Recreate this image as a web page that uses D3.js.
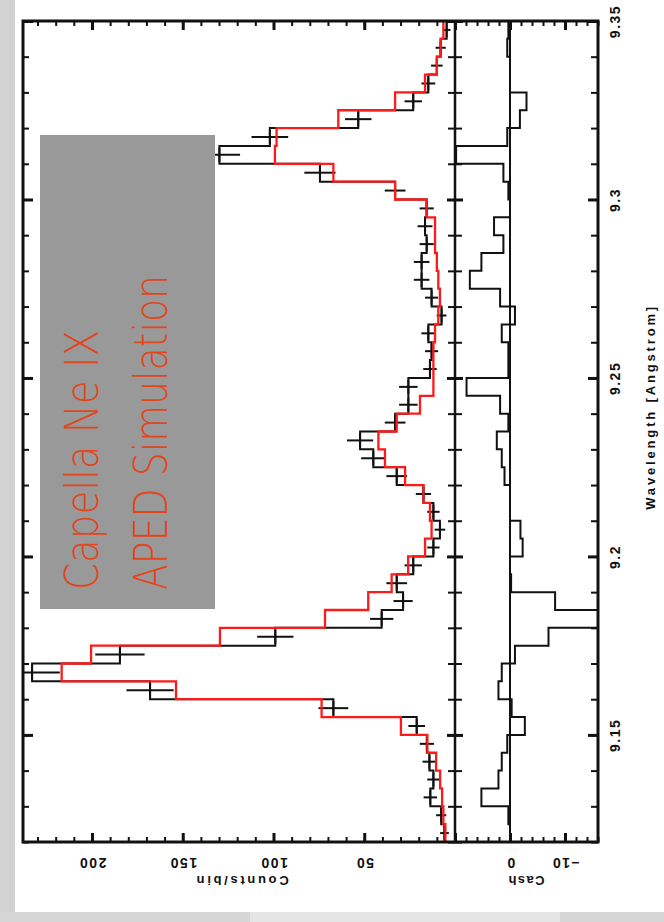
<!DOCTYPE html>
<html>
<head>
<meta charset="utf-8">
<script src="https://cdn.jsdelivr.net/npm/d3@7"></script>
<style>
  body { margin: 0; background: #ffffff; }
  svg { display: block; }
  .tick-label { font-family: "Liberation Sans", Arial, sans-serif; font-weight: bold; font-size: 14px; fill: #111; }
  .axis-title { font-family: "Liberation Sans", Arial, sans-serif; font-weight: bold; font-size: 13px; fill: #111; }
</style>
</head>
<body>
<svg id="chart" width="664" height="922"></svg>
<script>
// ---- Ne IX spectrum, binned counts (lower bin edges in Angstrom) ----
const binLow = [
  9.120, 9.125, 9.130, 9.135, 9.140, 9.145, 9.150, 9.155, 9.160, 9.165,
  9.170, 9.175, 9.180, 9.185, 9.190, 9.195, 9.200, 9.205, 9.210, 9.215,
  9.220, 9.225, 9.230, 9.235, 9.240, 9.245, 9.250, 9.255, 9.260, 9.265,
  9.270, 9.275, 9.280, 9.285, 9.290, 9.295, 9.300, 9.305, 9.310, 9.315,
  9.320, 9.325, 9.330, 9.335, 9.340, 9.345
];
const binWidth = 0.005;

// observed counts per bin
const dataCounts = [
  5.8, 7.6, 13.6, 11.9, 14.1, 15.5, 21.1, 67, 168, 233,
  184.6, 99, 40.4, 28.6, 32.1, 23, 11.9, 8.3, 11.9, 17.4,
  32.1, 45, 52.3, 33, 25.7, 25.7, 13.8, 12.9, 14.7, 7.4,
  12.9, 18.4, 18.4, 15.6, 16.5, 15.6, 33, 74.4, 129.8, 102,
  53.3, 23, 14.7, 10, 7.9, 4.6
];
// one-sigma errors on the observed counts
const dataErrors = [
  2.4, 2.8, 3.7, 3.4, 3.8, 3.9, 4.6, 8.2, 13, 15.3,
  13.6, 10, 6.4, 5.3, 5.7, 4.8, 3.4, 2.9, 3.4, 4.2,
  5.7, 6.7, 7.2, 5.7, 5.1, 5.1, 3.7, 3.6, 3.8, 2.7,
  3.6, 4.3, 4.3, 3.9, 4.1, 3.9, 5.7, 8.6, 11.4, 10.1,
  7.3, 4.8, 3.8, 3.2, 2.8, 2.1
];
// APED model counts per bin
const modelCounts = [
  5.3, 6.4, 7.1, 8.2, 10.4, 15.2, 29.8, 73.5, 153.7, 216.7,
  200.5, 129.5, 71.6, 47.8, 34.9, 25.8, 16.5, 12.9, 13.8, 17.4,
  27.5, 38.6, 42.2, 32.1, 19.3, 11.9, 11.9, 11.9, 11, 9.2,
  8.3, 9.2, 10, 11, 11, 15.6, 33, 67, 99.2, 98.3,
  64.3, 33, 16.5, 10, 7.9, 6.4
];
// Cash statistic residual per bin
const cashResid = [
  0, 0.3, 5.2, 2.1, 1.5, 0.5, -2.7, -0.3, 2.1, 1.5,
  -0.9, -7, -17, -8.2, -0.2, 0, -2.3, -1.9, 0, 0,
  1, 1.5, 2.4, 0.3, 1.8, 7.9, 0.3, 0.3, 1.5, -0.9,
  1.8, 7.3, 5.2, 1.2, 2.9, 0, 0.3, 1.2, 9.8, 0.5,
  -1.8, -3, 0, 0, 0.5, 0.3
];

// ---- axis ticks and labels ----
const waveMajor = [9.15, 9.2, 9.25, 9.3, 9.35];
const waveMajorLabels = ["9.15", "9.2", "9.25", "9.3", "9.35"];
const countMajor = [50, 100, 150, 200];
const countLabels = ["50", "100", "150", "200"];
const cashMajor = [0, -10];
const cashLabels = ["0", "\u221210"];
const waveTitle = "Wavelength [Angstrom]";
const countTitle = "Counts/bin";
const cashTitle = "Cash";
const noteLines = ["Capella Ne IX", "APED Simulation"];

// ---- layout ----
const svg = d3.select("#chart");
const W = 664, H = 922;
const F = { left: 23, top: 21, right: 598, bottom: 842, split: 455 };

// page background strips
svg.append("rect").attr("x", 0).attr("y", 0).attr("width", W).attr("height", H).attr("fill", "#ffffff");
svg.append("rect").attr("x", 0).attr("y", 0).attr("width", 15).attr("height", H).attr("fill", "#d2d2d2");
svg.append("rect").attr("x", 0).attr("y", 912).attr("width", W).attr("height", H - 912).attr("fill", "#d6d6d6");
svg.append("rect").attr("x", 250).attr("y", 912).attr("width", 310).attr("height", H - 912).attr("fill", "#e4e4e4");

// scales: wavelength runs up the page, counts increase to the left
const yW = d3.scaleLinear().domain([9.12, 9.35]).range([F.bottom, F.top]);
const xC = d3.scaleLinear().domain([0, 238]).range([F.split, F.left]);
const xR = d3.scaleLinear().domain([10, -16]).range([F.split, F.right]);

const waveMinor = d3.range(912, 936).map(v => v / 100);
const countMinor = d3.range(0, 240, 10);
const cashMinor = d3.range(-16, 11, 2);

const defs = svg.append("defs");
defs.append("clipPath").attr("id", "clipCounts")
  .append("rect").attr("x", F.left).attr("y", F.top).attr("width", F.split - F.left).attr("height", F.bottom - F.top);
defs.append("clipPath").attr("id", "clipCash")
  .append("rect").attr("x", F.split).attr("y", F.top).attr("width", F.right - F.split).attr("height", F.bottom - F.top);

function styleAxis(g, width) {
  g.select(".domain").remove();
  g.selectAll(".tick line").attr("stroke", "#111").attr("stroke-width", width);
  g.selectAll(".tick text").remove();
}

// wavelength ticks: right edge (inward), left edge (inward), panel divider (crossing)
[[d3.axisLeft, F.right, 7, 2, waveMinor], [d3.axisLeft, F.right, 10, 3, waveMajor],
 [d3.axisRight, F.left, 6, 2, waveMinor], [d3.axisRight, F.left, 10, 3, waveMajor],
 [d3.axisRight, F.split - 7, 14, 2, waveMinor], [d3.axisRight, F.split - 8, 16, 3, waveMajor]]
  .forEach(([ax, x, size, w, vals]) => {
    svg.append("g").attr("transform", `translate(${x},0)`)
      .call(ax(yW).tickValues(vals).tickSize(size).tickFormat(""))
      .call(g => styleAxis(g, w));
  });

// counts and Cash ticks along bottom (upward) and top (downward)
[[xC, countMinor, 5, 2], [xC, [0, ...countMajor], 9, 3], [xR, cashMinor, 5, 2], [xR, [10, ...cashMajor], 9, 3]]
  .forEach(([sc, vals, size, w]) => {
    svg.append("g").attr("transform", `translate(0,${F.bottom})`)
      .call(d3.axisTop(sc).tickValues(vals).tickSize(size).tickFormat(""))
      .call(g => styleAxis(g, w));
    svg.append("g").attr("transform", `translate(0,${F.top})`)
      .call(d3.axisBottom(sc).tickValues(vals).tickSize(size).tickFormat(""))
      .call(g => styleAxis(g, w));
  });

// wavelength tick labels, reading bottom-to-top
svg.append("g").attr("transform", `translate(${F.right},0)`)
  .call(d3.axisRight(yW).tickValues(waveMajor).tickSize(0).tickPadding(17)
    .tickFormat((d, i) => waveMajorLabels[i]))
  .call(g => {
    g.select(".domain").remove();
    g.selectAll(".tick text")
      .attr("class", "tick-label")
      .attr("x", null).attr("dy", null)
      .attr("text-anchor", "middle").attr("dominant-baseline", "central")
      .attr("letter-spacing", "1.5px")
      .attr("transform", "translate(17,0) rotate(-90)");
  });

// counts and Cash tick labels, upside down under the frame
function bottomLabels(sc, vals, labels) {
  svg.append("g").attr("transform", `translate(0,${F.bottom})`)
    .call(d3.axisBottom(sc).tickValues(vals).tickSize(0).tickPadding(21)
      .tickFormat((d, i) => labels[i]))
    .call(g => {
      g.select(".domain").remove();
      g.selectAll(".tick text")
        .attr("class", "tick-label")
        .attr("y", null).attr("dy", null)
        .attr("text-anchor", "middle").attr("dominant-baseline", "central")
        .attr("letter-spacing", "1.5px")
        .attr("transform", "translate(0,21) rotate(180)");
    });
}
bottomLabels(xC, countMajor, countLabels);
bottomLabels(xR, cashMajor, cashLabels);

// axis titles
svg.append("text").attr("class", "axis-title")
  .attr("transform", `translate(${xC(117)},880) rotate(180)`)
  .attr("text-anchor", "middle").attr("dominant-baseline", "central")
  .attr("textLength", 92).attr("lengthAdjust", "spacing")
  .text(countTitle);
svg.append("text").attr("class", "axis-title")
  .attr("transform", `translate(${xR(-3)},880) rotate(180)`)
  .attr("text-anchor", "middle").attr("dominant-baseline", "central")
  .attr("textLength", 36).attr("lengthAdjust", "spacing")
  .text(cashTitle);
svg.append("text").attr("class", "axis-title")
  .attr("transform", `translate(650,${yW(9.2415)}) rotate(-90)`)
  .attr("text-anchor", "middle").attr("dominant-baseline", "central")
  .attr("textLength", 203).attr("lengthAdjust", "spacing")
  .text(waveTitle);

// step histogram helper: vertical run across each bin at its value
const stepPath = (vals, xs) => d3.line()(vals.flatMap((v, i) => [
  [xs(v), yW(binLow[i])], [xs(v), yW(binLow[i] + binWidth)]
]));

const countsLayer = svg.append("g").attr("clip-path", "url(#clipCounts)");

// observed data histogram
countsLayer.append("path").attr("d", stepPath(dataCounts, xC))
  .attr("fill", "none").attr("stroke", "#111").attr("stroke-width", 2);

// error crosses
countsLayer.append("g").selectAll("line.err").data(dataCounts).join("line")
  .attr("x1", (d, i) => xC(d + dataErrors[i])).attr("x2", (d, i) => xC(d - dataErrors[i]))
  .attr("y1", (d, i) => yW(binLow[i] + binWidth / 2)).attr("y2", (d, i) => yW(binLow[i] + binWidth / 2))
  .attr("stroke", "#111").attr("stroke-width", 2);
countsLayer.append("g").selectAll("line.errv").data(dataCounts).join("line")
  .attr("x1", d => xC(d)).attr("x2", d => xC(d))
  .attr("y1", (d, i) => yW(binLow[i] + binWidth * 0.1)).attr("y2", (d, i) => yW(binLow[i] + binWidth * 0.9))
  .attr("stroke", "#111").attr("stroke-width", 2);

// model histogram
countsLayer.append("path").attr("d", stepPath(modelCounts, xC))
  .attr("fill", "none").attr("stroke", "#ff1a1a").attr("stroke-width", 2.3);

// residual panel: zero line and Cash residual histogram
svg.append("line").attr("x1", xR(0)).attr("x2", xR(0)).attr("y1", F.top).attr("y2", F.bottom)
  .attr("stroke", "#111").attr("stroke-width", 2);
svg.append("g").attr("clip-path", "url(#clipCash)")
  .append("path").attr("d", stepPath(cashResid, xR))
  .attr("fill", "none").attr("stroke", "#111").attr("stroke-width", 2);

// frame and panel divider
svg.append("rect").attr("x", F.left).attr("y", F.top)
  .attr("width", F.right - F.left).attr("height", F.bottom - F.top)
  .attr("fill", "none").attr("stroke", "#111").attr("stroke-width", 3);
svg.append("line").attr("x1", F.split).attr("x2", F.split).attr("y1", F.top).attr("y2", F.bottom)
  .attr("stroke", "#111").attr("stroke-width", 2.5);

// annotation box
svg.append("rect").attr("x", 40).attr("y", 135).attr("width", 175).attr("height", 474)
  .attr("fill", "#999999");
const noteX = [98, 167];
const noteLen = [260, 315];
noteLines.forEach((t, i) => {
  svg.append("text")
    .attr("transform", `translate(${noteX[i]},590) rotate(-90)`)
    .attr("font-family", "'DejaVu Sans', sans-serif")
    .attr("font-weight", 200)
    .attr("font-size", 46)
    .attr("fill", "#e2461c")
    .attr("textLength", noteLen[i]).attr("lengthAdjust", "spacingAndGlyphs")
    .text(t);
});
</script>
</body>
</html>
